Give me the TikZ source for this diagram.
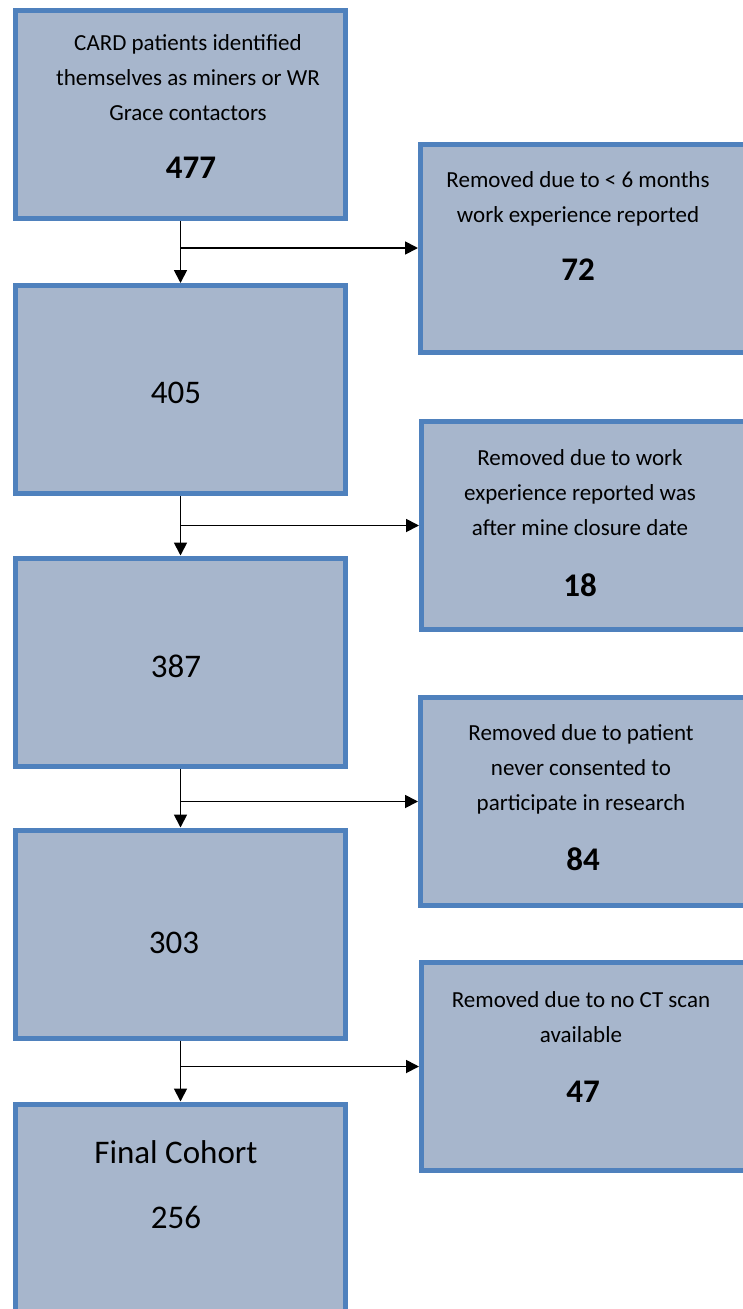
\documentclass[tikz,border=0pt]{standalone}
\usepackage{fontspec}
\setmainfont{Carlito}
\usetikzlibrary{positioning,arrows.meta}
\definecolor{boxfill}{HTML}{A7B6CC}
\definecolor{boxline}{HTML}{4F81BD}
\tikzset{
  stagebox/.style={draw=boxline, fill=boxfill, line width=5pt,
    minimum width=330pt, minimum height=208pt, inner sep=0pt},
  boxtext/.style={align=center, font=\fontsize{23}{35}\selectfont, inner sep=0pt},
  bignum/.style={font=\fontsize{33}{36}\selectfont\bfseries, inner sep=0pt},
  plainnum/.style={font=\fontsize{33}{36}\selectfont, inner sep=0pt},
  flow/.style={line width=1.8pt, -{Triangle[length=13pt,width=13pt]}}
}

\begin{document}
\begin{tikzpicture}[x=1pt,y=-1pt]
\useasboundingbox (0,0) rectangle (742,1309);
% main column
\node[stagebox] (b1) at (180.5,114.5) {};
\node[boxtext] (t1) at (188,78) {CARD patients identified\\themselves as miners or WR\\Grace contactors};
\node[bignum] (n1) at (191,168) {477};
\node[stagebox] (b2) at (180.5,389.5) {};
\node[plainnum] (n2) at (176,393) {405};
\node[stagebox] (b3) at (180.5,662) {};
\node[plainnum] (n3) at (176,666) {387};
\node[stagebox] (b4) at (180.5,934) {};
\node[plainnum] (n4) at (174,943) {303};
\node[stagebox] (b5) at (180.5,1208) {};
\node[plainnum] (t5) at (176,1152) {Final Cohort};
\node[plainnum] (n5) at (176,1217) {256};
% removed boxes
\node[stagebox] (rA) at (585.5,248) {};
\node[boxtext] (tA) at (578,199) {Removed due to < 6 months\\work experience reported};
\node[bignum] (nA) at (578,270) {72};
\node[stagebox] (rB) at (586.5,525.5) {};
\node[boxtext] (tB) at (580,493) {Removed due to work\\experience reported was\\after mine closure date};
\node[bignum] (nB) at (580,585) {18};
\node[stagebox] (rC) at (585.5,801.5) {};
\node[boxtext] (tC) at (581,769) {Removed due to patient\\never consented to\\participate in research};
\node[bignum] (nC) at (583,859) {84};
\node[stagebox] (rD) at (586.5,1066.5) {};
\node[boxtext] (tD) at (581,1017) {Removed due to no CT scan\\available};
\node[bignum] (nD) at (583,1092) {47};
% connectors
\draw[flow] (b1) -- (b2);
\draw[flow] (b2) -- (b3);
\draw[flow] (b3) -- (b4);
\draw[flow] (b4) -- (b5);
\coordinate (j1) at (b1.south |- rA.west);
\coordinate (j2) at (b2.south |- rB.west);
\coordinate (j3) at (b3.south |- rC.west);
\coordinate (j4) at (b4.south |- rD.west);
\draw[flow] (j1) -- (rA.west);
\draw[flow] (j2) -- (rB.west);
\draw[flow] (j3) -- (rC.west);
\draw[flow] (j4) -- (rD.west);
\end{tikzpicture}
\end{document}
